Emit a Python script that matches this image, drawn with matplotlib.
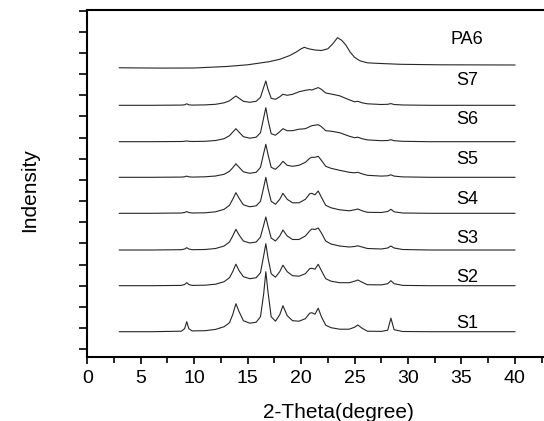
import matplotlib
matplotlib.use("Agg")
import matplotlib.pyplot as plt
from matplotlib.ticker import MultipleLocator

plt.rcParams['font.family'] = ['Liberation Sans', 'DejaVu Sans']

# 2-theta grid shared by the S samples (degree)
theta = [3.0, 6.0, 8.8, 9.1, 9.3, 9.5, 9.8, 11.0, 12.0, 12.8,
         13.3, 13.6, 13.9, 14.2, 14.6, 15.2, 15.8, 16.2, 16.5, 16.7,
         16.9, 17.2, 17.6, 18.0, 18.3, 18.7, 19.2, 19.8, 20.4, 20.8,
         21.0, 21.3, 21.6, 21.9, 22.3, 22.8, 23.6, 24.5, 25.0, 25.3,
         25.7, 26.2, 27.5, 28.1, 28.4, 28.7, 29.5, 32.0, 36.0, 40.0]

# intensities (a.u.)
s1 = [0, 0, 0.5, 3, 10, 3, 0.8, 1, 2.3, 5,
      9, 17, 28, 20, 11, 8.5, 9.5, 15, 38, 60,
      40, 15, 10.5, 17, 26, 16, 11, 10.5, 13, 18.5,
      19, 17.5, 23.5, 15, 6.5, 4, 2.5, 2.5, 4.5, 6.7,
      3.5, 0.5, 0.3, 1.5, 13.5, 2, 0.2, 0, 0, 0]
s2 = [0, 0, 0.3, 1.2, 3, 1.2, 0.3, 0.5, 1.5, 4,
      8, 14, 21.5, 15, 9, 7, 8, 13, 30, 42,
      28, 12, 8.5, 14, 20.5, 14, 10, 9.5, 12, 17,
      17.4, 16.5, 21.4, 15, 7, 4.5, 3, 3, 4.5, 5.7,
      3.5, 1, 0.8, 2, 5, 2, 0.3, 0, 0, 0]
s3 = [0, 0, 0.3, 1, 2.3, 1, 0.3, 0.5, 1.5, 4,
      8, 14, 20.7, 15, 9, 7, 8, 13, 25, 33,
      24, 12, 9, 14, 20, 14, 10.5, 10.5, 14, 19,
      21, 20.5, 22, 17, 9, 6, 4, 3, 3.5, 4.2,
      3, 1.5, 1, 2, 4, 2, 0.5, 0, 0, 0]
s4 = [0, 0, 0.3, 0.8, 1.7, 0.8, 0.3, 0.5, 1.5, 4,
      8, 14, 20.6, 15, 8.5, 6.5, 7.5, 12, 26, 36,
      25, 12, 9, 14, 20, 14, 10.5, 10.5, 14, 19.5,
      20, 18.5, 22.3, 16, 8, 5.5, 3.5, 2.5, 3.5, 4.3,
      2.5, 1, 0.8, 1.8, 4, 1.5, 0.3, 0, 0, 0]
s5 = [0, 0, 0.2, 0.5, 1.2, 0.5, 0.2, 0.5, 1.3, 3,
      6, 9.5, 13.5, 10, 5.5, 4, 5, 10, 24, 33,
      23, 10, 8, 12, 16, 12, 11, 12, 15, 19,
      20, 20, 21, 17, 11, 9, 7, 5, 4.5, 5,
      3.5, 2, 1.2, 1.5, 2.5, 1.2, 0.4, 0, 0, 0]
s6 = [0, 0, 0.2, 0.4, 0.8, 0.4, 0.2, 0.4, 1.2, 3,
      6, 9.5, 13, 9.5, 5, 3.5, 4.5, 9, 24, 34,
      22, 8, 6.5, 10, 13, 11, 11, 12.5, 13, 15,
      16, 16.5, 17, 15, 11, 10.5, 9, 5.5, 4, 4.5,
      3, 1.8, 1, 1.2, 2, 1, 0.4, 0, 0, 0]
s7 = [0, 0, 0.2, 0.5, 1.5, 0.5, 0.2, 0.4, 1, 2.5,
      4.5, 7, 9.3, 7, 4, 3, 4, 8, 18, 24.3,
      16, 7, 6, 8.5, 11, 10, 11, 13.5, 15, 15.7,
      15.3, 16.5, 17.7, 16, 12.3, 11.3, 9.5, 5.5, 3.5, 4,
      2.5, 1.5, 0.8, 1, 1.7, 0.8, 0.3, 0, 0, 0]

# neat PA6
theta_pa6 = [3.0, 7.0, 10.0, 13.0, 15.0, 17.0, 18.0, 18.9, 19.5, 20.0,
             20.3, 20.7, 21.3, 21.9, 22.5, 23.0, 23.4, 23.8, 24.2, 24.6,
             25.0, 25.5, 26.2, 27.0, 29.3, 33.0, 40.0]
pa6 = [0.5, 0.2, 0.3, 1.8, 3.5, 6.6, 9, 12.6, 16, 19.5,
       21, 19.5, 18.3, 17.8, 19.5, 25, 30.6, 28, 23, 16,
       11, 7.5, 5.5, 5, 4, 3.5, 3.3]

names = ['S1', 'S2', 'S3', 'S4', 'S5', 'S6', 'S7', 'PA6']
offsets = [17.6, 63.6, 99.3, 136.0, 172.0, 207.6, 244.0, 281.0]
label_y = [25.3, 71.6, 111.0, 149.3, 189.3, 229.3, 269.3, 310.3]

fig = plt.figure(figsize=(5.44, 4.21), dpi=100)
ax = fig.add_axes([87.3 / 544, 64.3 / 421, (544 - 87.3) / 544, (356.7 - 10) / 421])

series = [s1, s2, s3, s4, s5, s6, s7]
for vals, off in zip(series, offsets[:7]):
    ax.plot(theta, [v + off for v in vals], color='#262626', lw=0.8)
ax.plot(theta_pa6, [v + offsets[7] for v in pa6], color='#262626', lw=0.8)

for name, ly in zip(names, label_y):
    ax.text(35.5, ly, name, fontsize=13, ha='center', va='center')

ax.set_xlim(0, 42.72)
ax.set_ylim(-7.4, 339.3)
ax.xaxis.set_major_locator(MultipleLocator(5))
ax.xaxis.set_minor_locator(MultipleLocator(2.5))
ax.yaxis.set_major_locator(MultipleLocator(21.17))
ax.set_yticklabels([])
ax.tick_params(axis='x', which='major', length=5, width=1.2, labelsize=14, pad=4.5)
ax.tick_params(axis='x', which='minor', length=4, width=1.2)
ax.tick_params(axis='y', which='major', length=5.5, width=1.2)
ax.spines['right'].set_visible(False)
for s in ['left', 'bottom', 'top']:
    ax.spines[s].set_linewidth(1.5)

fig.text(338 / 544, 1 - 412 / 421, '2-Theta(degree)', fontsize=15, ha='center', va='center')
fig.text(30 / 544, 1 - 190 / 421, 'Indensity', fontsize=15, ha='center', va='center', rotation=90)

fig.savefig('out.png', dpi=100)
